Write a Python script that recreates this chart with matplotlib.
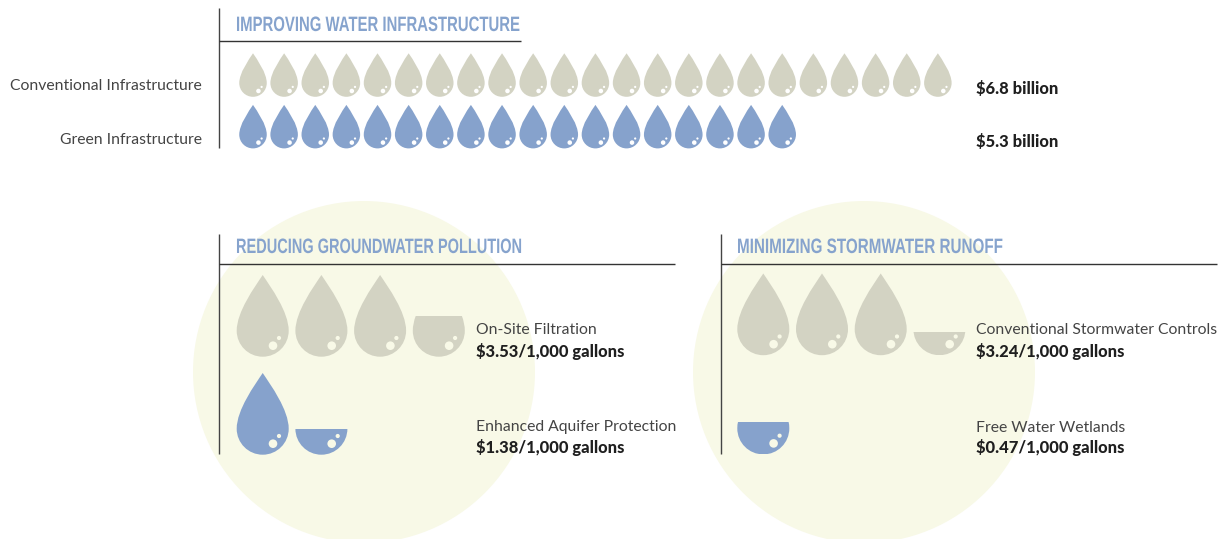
import math
import matplotlib
matplotlib.use("Agg")
import matplotlib.pyplot as plt
from matplotlib.path import Path
from matplotlib.patches import PathPatch, Circle, Rectangle
from matplotlib.patheffects import AbstractPathEffect
from matplotlib.transforms import Affine2D

# top chart, one drop is about 0.3 billion
infra_labels = ["Conventional Infrastructure", "Green Infrastructure"]
infra_values = [6.8, 5.3]
infra_value_labels = ["$6.8 billion", "$5.3 billion"]
billions_per_drop = 0.3

# lower charts, one drop is $1 per 1,000 gallons
ground_labels = ["On-Site Filtration", "Enhanced Aquifer Protection"]
ground_values = [3.53, 1.38]
ground_last_fill = [0.50, 0.315]   # how much of the last drop's height is drawn

storm_labels = ["Conventional Stormwater Controls", "Free Water Wetlands"]
storm_values = [3.24, 0.47]
storm_last_fill = [0.285, 0.40]

TAN = "#D3D3C3"
BLUE = "#86A2CC"
CREAM = "#F8F9E7"
TITLE = "#86A3CD"
INK = "#444444"
BOLD_INK = "#1F1F1F"
BODY = "Lato"
HEAD = "Liberation Sans"

W, H = 1222, 539
fig = plt.figure(figsize=(W / 100, H / 100), dpi=100)
ax = fig.add_axes([0, 0, 1, 1])
ax.set_xlim(0, W)
ax.set_ylim(H, 0)
ax.axis("off")


class Squeeze(AbstractPathEffect):
    # no condensed face is installed, so narrow the glyphs about the text's left edge
    def __init__(self, x0, sx):
        super().__init__()
        self.x0 = x0
        self.sx = sx

    def draw_path(self, renderer, gc, tpath, affine, rgbFace=None):
        squeeze = Affine2D().translate(-self.x0, 0).scale(self.sx, 1).translate(self.x0, 0)
        renderer.draw_path(gc, tpath, affine + squeeze, rgbFace)


def drop_path(cx, bottom, w, h):
    # tip at the top, round belly at the bottom
    r = w / 2
    top = bottom - h
    mid = bottom - r
    k = 0.5523 * r
    verts = [(cx, top),
             (cx + r * 0.31, top + h * 0.148), (cx + r, top + h * 0.45), (cx + r, mid),
             (cx + r, mid + k), (cx + k, bottom), (cx, bottom),
             (cx - k, bottom), (cx - r, mid + k), (cx - r, mid),
             (cx - r, top + h * 0.45), (cx - r * 0.31, top + h * 0.148), (cx, top),
             (cx, top)]
    codes = [Path.MOVETO] + [Path.CURVE4] * 12 + [Path.CLOSEPOLY]
    return Path(verts, codes)


def draw_drop(cx, bottom, w, h, color, bg, fill=1.0):
    patch = PathPatch(drop_path(cx, bottom, w, h), fc=color, ec="none", zorder=3)
    ax.add_patch(patch)
    if fill < 1:
        clip = Rectangle((cx - w, bottom - h * fill), 2 * w, h * fill, transform=ax.transData)
        patch.set_clip_path(clip)
    s = w / 52
    ax.add_patch(Circle((cx + 10.3 * s, bottom - 11 * s), 4.3 * s, fc=bg, ec="none", zorder=4))
    ax.add_patch(Circle((cx + 16.3 * s, bottom - 18.7 * s), 2.1 * s, fc=bg, ec="none", zorder=4))


def draw_row(value, x0, pitch, bottom, w, h, color, bg, last_fill=None):
    if last_fill is None:
        # every drop whole, rounded up
        for i in range(math.ceil(value)):
            draw_drop(x0 + i * pitch, bottom, w, h, color, bg)
    else:
        whole = int(value)
        for i in range(whole):
            draw_drop(x0 + i * pitch, bottom, w, h, color, bg)
        draw_drop(x0 + whole * pitch, bottom, w, h, color, bg, last_fill)


def frame(x, top, bottom, rule_y, rule_end):
    ax.plot([x, x], [top, bottom], color="#444444", lw=1.0, zorder=5, solid_capstyle="butt")
    ax.plot([x, rule_end], [rule_y, rule_y], color="#333333", lw=1.0, zorder=5, solid_capstyle="butt")


def title(x, y, s, width):
    t = ax.text(x, y, s, color=TITLE, fontsize=15, fontweight="bold", family=HEAD,
                va="center", ha="left", zorder=6)
    natural = t.get_window_extent(fig.canvas.get_renderer()).width
    t.set_path_effects([Squeeze(x, width / natural)])


def body(x, y, s, **kw):
    ax.text(x, y, s, va="center", fontsize=11.35, family=BODY, color=INK, **kw)


def strong(x, y, s):
    ax.text(x, y, s, ha="left", va="center", fontsize=11.9, family=BODY, color=BOLD_INK, fontweight=900)


# pale circles behind the lower charts
ax.add_patch(Circle((364, 372), 171, fc=CREAM, ec="none", zorder=1))
ax.add_patch(Circle((864, 372), 171, fc=CREAM, ec="none", zorder=1))

# top chart
frame(219, 8, 148, 41, 521)
title(236, 25.5, "IMPROVING WATER INFRASTRUCTURE", 284)
for lab, val, vlab, col, bot, y1, y2 in zip(infra_labels, infra_values, infra_value_labels,
                                            [TAN, BLUE], [96.8, 148.4], [86.5, 140.5], [89, 142]):
    draw_row(val / billions_per_drop, 253, 31.13, bot, 27.5, 43.5, col, "white")
    body(202, y1, lab, ha="right")
    strong(976, y2, vlab)

# lower left
frame(219, 234, 454, 264, 675)
title(236, 247.5, "REDUCING GROUNDWATER POLLUTION", 286)
for i, (lab, val, fill) in enumerate(zip(ground_labels, ground_values, ground_last_fill)):
    col = [TAN, BLUE][i]
    draw_row(val, 262.7, 58.7, [356.7, 454.7][i], 52, 81.7, col, CREAM, fill)
    body(476, [329.5, 427.5][i], lab, ha="left")
    strong(476, [351, 448][i], f"${val:.2f}/1,000 gallons")

# lower right
frame(720.5, 234, 454, 264, 1217)
title(737, 247.5, "MINIMIZING STORMWATER RUNOFF", 266)
for i, (lab, val, fill) in enumerate(zip(storm_labels, storm_values, storm_last_fill)):
    col = [TAN, BLUE][i]
    draw_row(val, 763.3, 58.7, [355.2, 454.4][i], 52, 81.7, col, CREAM, fill)
    body(976, [329.5, 427.5][i], lab, ha="left")
    strong(976, [351, 448][i], f"${val:.2f}/1,000 gallons")

fig.savefig("out.png", dpi=100, facecolor="white")
